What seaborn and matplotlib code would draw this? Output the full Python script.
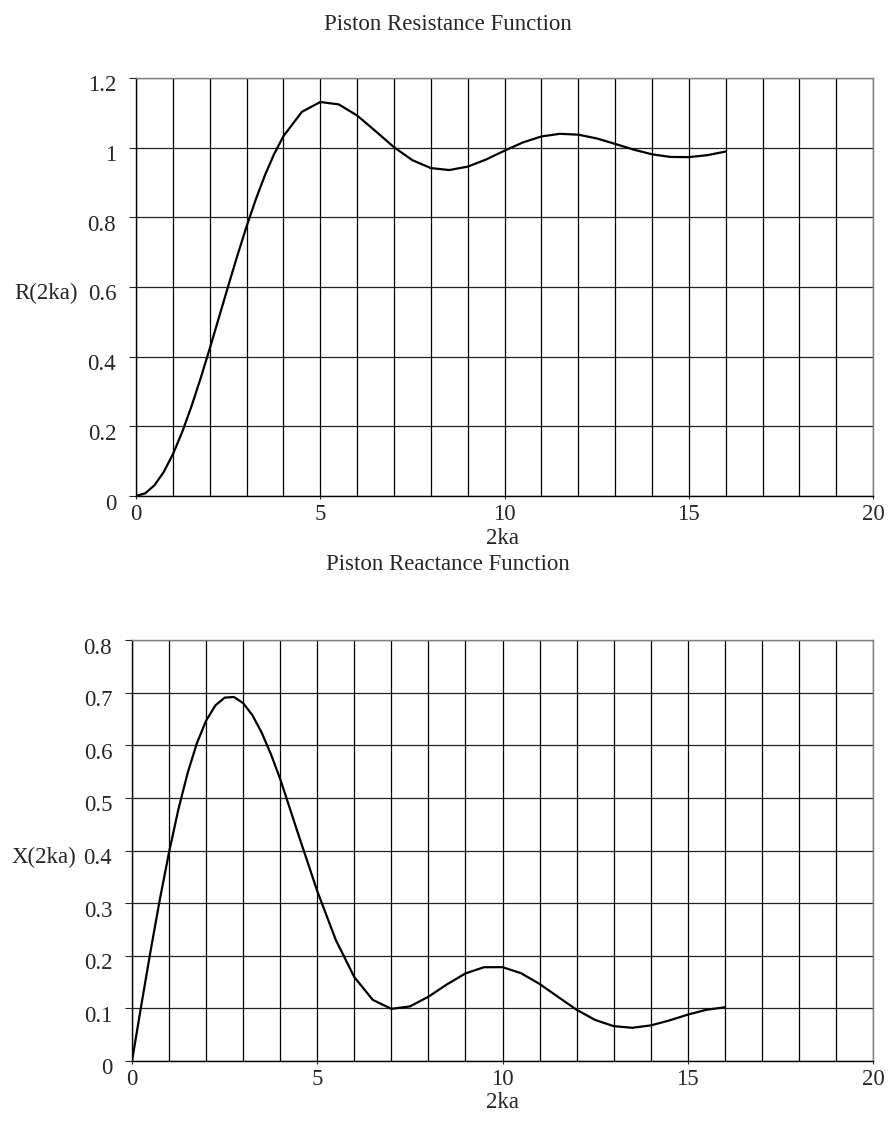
import matplotlib
matplotlib.use("Agg")
import matplotlib.pyplot as plt
import seaborn as sns
from matplotlib.ticker import MultipleLocator
from matplotlib.transforms import ScaledTranslation

# 2ka sample points (finer near the origin)
ka2 = [0, 0.25, 0.5, 0.75, 1, 1.25, 1.5, 1.75, 2, 2.25, 2.5, 2.75, 3, 3.25, 3.5, 3.75,
       4, 4.5, 5, 5.5, 6, 6.5, 7, 7.5, 8, 8.5, 9, 9.5, 10, 10.5, 11, 11.5, 12,
       12.5, 13, 13.5, 14, 14.5, 15, 15.5, 16]

# Piston resistance R(2ka)
resistance = [0, 0.0078, 0.0309, 0.0687, 0.1199, 0.1830, 0.2561, 0.3370, 0.4233,
              0.5126, 0.6023, 0.6902, 0.7740, 0.8516, 0.9215, 0.9823, 1.0330,
              1.1027, 1.1310, 1.1241, 1.0922, 1.0473, 1.0013, 0.9639, 0.9413,
              0.9357, 0.9455, 0.9660, 0.9913, 1.0150, 1.0321, 1.0397, 1.0372,
              1.0265, 1.0108, 0.9944, 0.9809, 0.9733, 0.9727, 0.9784, 0.9887]

# Piston reactance X(2ka)
reactance = [0, 0.1057, 0.2087, 0.3066, 0.3969, 0.4777, 0.5470, 0.6037, 0.6468,
             0.6757, 0.6905, 0.6917, 0.6801, 0.6570, 0.6240, 0.5828, 0.5358,
             0.4282, 0.3228, 0.2300, 0.1593, 0.1160, 0.0991, 0.1037, 0.1221,
             0.1456, 0.1664, 0.1782, 0.1783, 0.1668, 0.1464, 0.1217, 0.0973,
             0.0779, 0.0662, 0.0631, 0.0676, 0.0770, 0.0881, 0.0973, 0.1021]

r_ticks = [0, 0.2, 0.4, 0.6, 0.8, 1, 1.2]
r_labels = ["0", "0.2", "0.4", "0.6", "0.8", "1", "1.2"]
x_ticks = [0, 0.1, 0.2, 0.3, 0.4, 0.5, 0.6, 0.7, 0.8]
x_labels = ["0", "0.1", "0.2", "0.3", "0.4", "0.5", "0.6", "0.7", "0.8"]

FS = 16.5

sns.set_style("white")
plt.rcParams['font.family'] = ['Liberation Serif', 'DejaVu Serif']
plt.rcParams['font.size'] = FS

fig = plt.figure(figsize=(8.95, 11.25), dpi=100)
ax1 = fig.add_axes([0.152, 0.5591, 0.8235, 0.3716])
ax2 = fig.add_axes([0.1475, 0.0569, 0.828, 0.3742])


def style_axis(ax, yticks, ylabels, ymax):
    ax.set_xlim(0, 20)
    ax.set_ylim(0, ymax)
    ax.xaxis.set_major_locator(MultipleLocator(5))
    ax.xaxis.set_minor_locator(MultipleLocator(1))
    ax.set_yticks(yticks)
    ax.set_yticklabels(ylabels)
    ax.grid(True, which='both', axis='x', color='black', linewidth=0.9)
    ax.grid(True, which='major', axis='y', color='#222222', linewidth=0.9)
    ax.tick_params(axis='y', which='major', direction='out', length=4.8, width=0.8,
                   pad=9.5, labelsize=FS, left=True)
    ax.tick_params(axis='x', which='major', direction='out', length=2.5, width=0.8,
                   pad=3, labelsize=FS, bottom=True)
    ax.tick_params(axis='x', which='minor', length=0)
    # the y labels sit a little below their grid lines in the original
    shift = ScaledTranslation(0, -0.055, fig.dpi_scale_trans)
    for lab in ax.get_yticklabels():
        lab.set_transform(lab.get_transform() + shift)
    for side in ['left', 'bottom']:
        ax.spines[side].set_color('black')
        ax.spines[side].set_linewidth(1.0)
    for side in ['top', 'right']:
        ax.spines[side].set_color('#808080')
        ax.spines[side].set_linewidth(1.0)
    ax.set_xlabel("")
    ax.set_ylabel("")


sns.lineplot(x=ka2, y=resistance, ax=ax1, color='black', linewidth=1.6)
style_axis(ax1, r_ticks, r_labels, 1.2)

sns.lineplot(x=ka2, y=reactance, ax=ax2, color='black', linewidth=1.6)
style_axis(ax2, x_ticks, x_labels, 0.8)

fig.text(0.5, 1 - 25 / 1125, "Piston Resistance Function", ha='center', va='center', fontsize=FS)
fig.text(503 / 895, 1 - 539 / 1125, "2ka", ha='center', va='center', fontsize=FS)
fig.text(46 / 895, 1 - 293 / 1125, "R(2ka)", ha='center', va='center', fontsize=FS)

fig.text(0.5, 1 - 564 / 1125, "Piston Reactance Function", ha='center', va='center', fontsize=FS)
fig.text(503 / 895, 1 - 1102 / 1125, "2ka", ha='center', va='center', fontsize=FS)
fig.text(44 / 895, 1 - 857 / 1125, "X(2ka)", ha='center', va='center', fontsize=FS)

fig.savefig("out.png", dpi=100)
